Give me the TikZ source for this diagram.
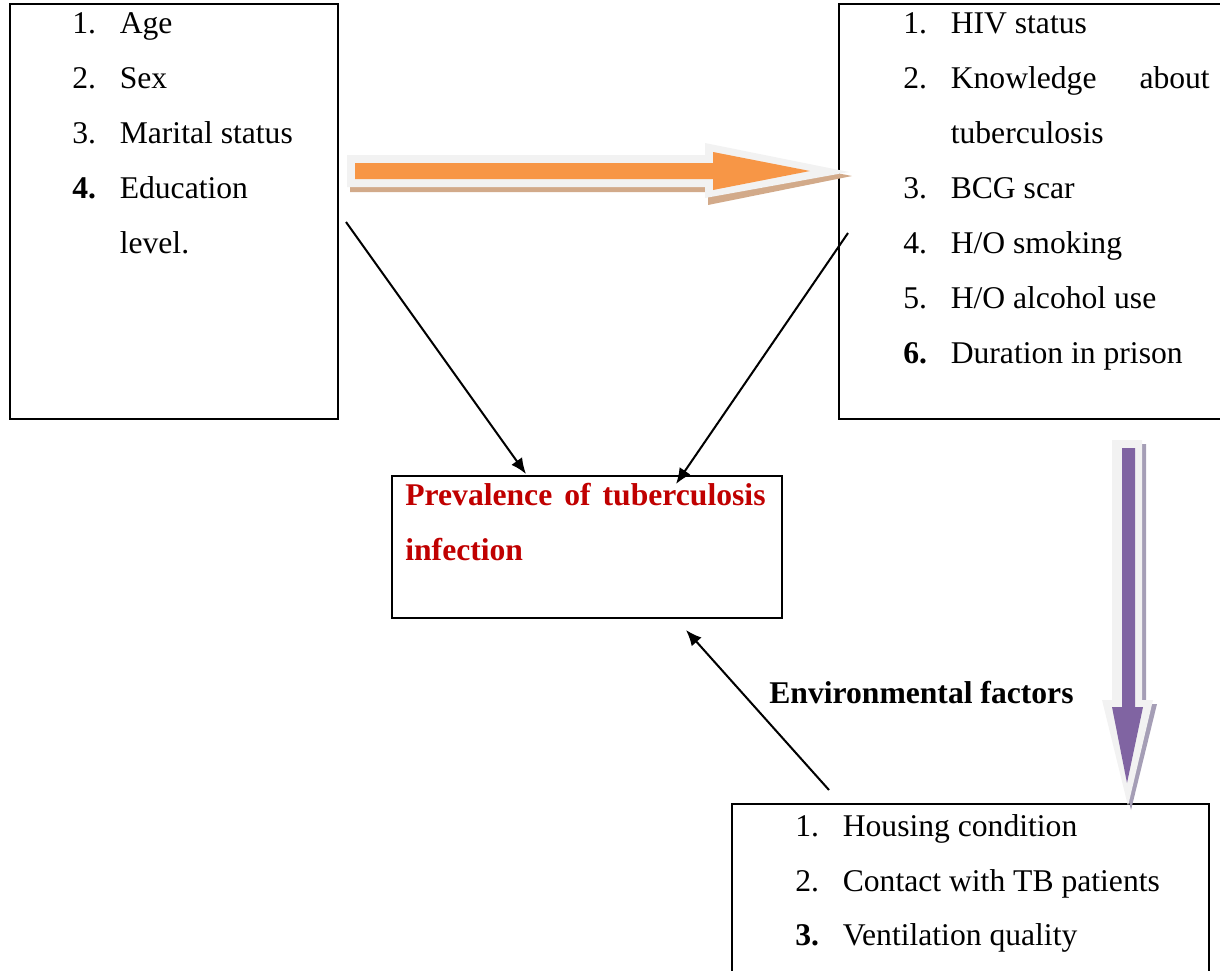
\documentclass[tikz,border=0pt]{standalone}
\usepackage{fontspec}
\setmainfont{Liberation Serif}
\usepackage{tikz}
\usetikzlibrary{arrows.meta}
\definecolor{tbred}{HTML}{C00000}
\definecolor{arrorange}{HTML}{F79646}
\definecolor{arrpurple}{HTML}{8064A2}
\definecolor{arredge}{HTML}{F2F2F2}
\definecolor{orangeshade}{RGB}{210,170,138}
\definecolor{purpleshade}{RGB}{165,158,182}
\tikzset{>={Latex[length=9pt,width=7.5pt]}}

\begin{document}
\begin{tikzpicture}[x=0.02cm,y=-0.02cm,
    factorbox/.style={draw,line width=1.3pt,anchor=north west,inner sep=0pt},
    entry/.style={anchor=base west,inner sep=0pt,font=\fontsize{18}{22}\selectfont},
    link/.style={->,line width=1.15pt}]
  \clip (0,0) rectangle (1220,970);

  % HELP MACRO
  \def\numw{27pt} % number column
  \def\itm#1#2{\makebox[\numw][l]{#1}#2}

  % BOXES
  \node[factorbox,minimum width=6.56cm,minimum height=8.3cm] (socio) at (9,3) {};
  \node[factorbox,minimum width=8.1cm,minimum height=8.3cm] (indiv) at (838,3) {};
  \node[factorbox,minimum width=7.8cm,minimum height=2.84cm] (prev) at (391,475) {};
  \node[factorbox,minimum width=9.54cm,minimum height=3.8cm] (envir) at (731,803) {};

  % SOCIO-DEMOGRAPHIC ITEMS
  \node[entry] (s1) at (72,33)  {\itm{1.}{Age}};
  \node[entry] (s2) at (72,88)  {\itm{2.}{Sex}};
  \node[entry] (s3) at (72,143) {\itm{3.}{Marital status}};
  \node[entry] (s4) at (72,198) {\itm{\textbf{4.}}{Education}};
  \node[entry] (s5) at (72,253) {\itm{}{level.}};

  % INDIVIDUAL ITEMS
  \node[entry] (i1) at (903,33)  {\itm{1.}{HIV status}};
  \node[entry] (i2) at (903,88)  {\itm{2.}{\hbox to 147.4pt{Knowledge\hfill about}}};
  \node[entry] (i3) at (903,143) {\itm{}{tuberculosis}};
  \node[entry] (i4) at (903,198) {\itm{3.}{BCG scar}};
  \node[entry] (i5) at (903,253) {\itm{4.}{H/O smoking}};
  \node[entry] (i6) at (903,308) {\itm{5.}{H/O alcohol use}};
  \node[entry] (i7) at (903,363) {\itm{\textbf{6.}}{Duration in prison}};

  % OUTCOME
  \node[entry,font=\fontsize{18}{22}\selectfont\bfseries,text=tbred] (p1) at (405,505)
    {\hbox to 205pt{Prevalence\hfill of\hfill tuberculosis}};
  \node[entry,font=\fontsize{18}{22}\selectfont\bfseries,text=tbred] (p2) at (405,560) {infection};

  % ENVIRONMENT
  \node[entry,font=\fontsize{18}{22}\selectfont\bfseries] (envlabel) at (769,703) {Environmental factors};
  \node[entry] (e1) at (795,836) {\itm{1.}{Housing condition}};
  \node[entry] (e2) at (795,891) {\itm{2.}{Contact with TB patients}};
  \node[entry] (e3) at (795,945) {\itm{\textbf{3.}}{Ventilation quality}};

  % CONNECTORS
  \coordinate (socioOut) at (346,222);
  \coordinate (indivOut) at (848,233);
  \coordinate (envirOut) at (829,790);
  \coordinate (prevInL)  at (526,474);
  \coordinate (prevInR)  at (676,484);
  \coordinate (prevInB)  at (686,630);
  \draw[link] (socioOut) -- (prevInL);
  \draw[link] (indivOut) -- (prevInR);
  \draw[link] (envirOut) -- (prevInB);

  % BLOCK ARROW (orange)
  \fill[orangeshade] (350,160) -- (708,160) -- (708,148) -- (852,176) -- (708,205)
                     -- (708,192) -- (350,192) -- cycle;
  \fill[arredge] (347,155) -- (705,155) -- (705,143) -- (849,172) -- (705,198)
                 -- (705,187) -- (347,187) -- cycle;
  \fill[arrorange] (355,163) -- (713,163) -- (713,152) -- (810,171) -- (713,190)
                   -- (713,179) -- (355,179) -- cycle;

  % BLOCK ARROW (purple)
  \fill[purpleshade] (1116,444) -- (1146,444) -- (1146,704) -- (1157,704) -- (1131,810)
                     -- (1106,704) -- (1116,704) -- cycle;
  \fill[arredge] (1112,440) -- (1142,440) -- (1142,700) -- (1153,700) -- (1128,806)
                 -- (1102,700) -- (1112,700) -- cycle;
  \fill[arrpurple] (1122,448) -- (1135,448) -- (1135,707) -- (1143,707) -- (1127,783)
                   -- (1112,707) -- (1122,707) -- cycle;
\end{tikzpicture}
\end{document}
